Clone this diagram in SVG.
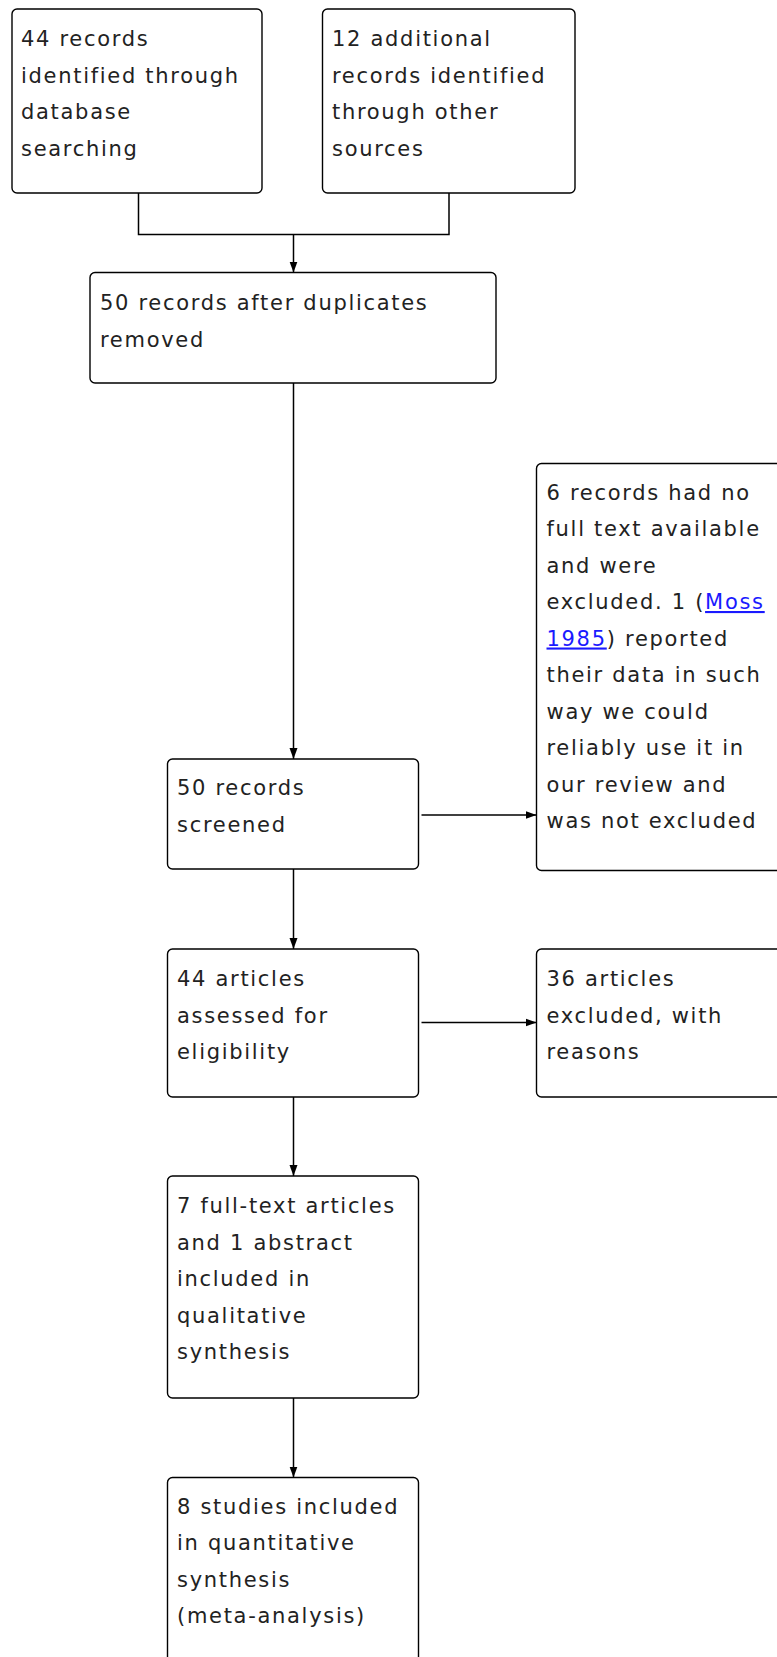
<svg xmlns="http://www.w3.org/2000/svg" width="777" height="1657" viewBox="0 0 777 1657">
<style>
.box{fill:#fff;stroke:#000;stroke-width:1.4}
.t{font-family:"DejaVu Sans",sans-serif;font-size:21px;letter-spacing:1.7px;fill:#222}
.c{fill:none;stroke:#000;stroke-width:1.5}
.lk{fill:#1a1aff;text-decoration:underline}
</style>
<defs>
<marker id="ah" viewBox="0 0 11 9" refX="11" refY="4.5" markerWidth="11" markerHeight="9" markerUnits="userSpaceOnUse" orient="auto">
<path d="M0,0.5 L11,4.5 L0,8.5 z" fill="#000"/>
</marker>
</defs>
<rect width="777" height="1657" fill="#fff"/>
<g id="connectors">
<polyline class="c" points="138.5,193 138.5,234.5 449,234.5 449,193"/>
<line class="c" x1="293.5" y1="234.5" x2="293.5" y2="272.5" marker-end="url(#ah)"/>
<line class="c" x1="293.5" y1="383" x2="293.5" y2="759" marker-end="url(#ah)"/>
<line class="c" x1="421.5" y1="815" x2="536.5" y2="815" marker-end="url(#ah)"/>
<line class="c" x1="293.5" y1="869" x2="293.5" y2="949" marker-end="url(#ah)"/>
<line class="c" x1="421.5" y1="1022.5" x2="536.5" y2="1022.5" marker-end="url(#ah)"/>
<line class="c" x1="293.5" y1="1097" x2="293.5" y2="1176" marker-end="url(#ah)"/>
<line class="c" x1="293.5" y1="1398" x2="293.5" y2="1477.5" marker-end="url(#ah)"/>
</g>
<g id="n1">
<rect class="box" x="12" y="9" width="250" height="184" rx="5"/>
<text class="t" x="21" y="46">44 records</text>
<text class="t" x="21" y="82.5">identified through</text>
<text class="t" x="21" y="119">database</text>
<text class="t" x="21" y="155.5">searching</text>
</g>
<g id="n2">
<rect class="box" x="322.5" y="9" width="252.5" height="184" rx="5"/>
<text class="t" x="332" y="46">12 additional</text>
<text class="t" x="332" y="82.5">records identified</text>
<text class="t" x="332" y="119">through other</text>
<text class="t" x="332" y="155.5">sources</text>
</g>
<g id="n3">
<rect class="box" x="90" y="272.5" width="406" height="110.5" rx="5"/>
<text class="t" x="100" y="310">50 records after duplicates</text>
<text class="t" x="100" y="346.5">removed</text>
</g>
<g id="n4">
<rect class="box" x="167.5" y="759" width="251" height="110" rx="5"/>
<text class="t" x="177" y="795">50 records</text>
<text class="t" x="177" y="831.5">screened</text>
</g>
<g id="n5">
<rect class="box" x="536.5" y="463.5" width="260" height="407" rx="5"/>
<text class="t" x="546.5" y="499.5">6 records had no</text>
<text class="t" x="546.5" y="536">full text available</text>
<text class="t" x="546.5" y="572.5">and were</text>
<text class="t" x="546.5" y="609">excluded. 1 (<tspan class="lk">Moss</tspan></text>
<text class="t" x="546.5" y="645.5"><tspan class="lk">1985</tspan>) reported</text>
<text class="t" x="546.5" y="682">their data in such</text>
<text class="t" x="546.5" y="718.5">way we could</text>
<text class="t" x="546.5" y="755">reliably use it in</text>
<text class="t" x="546.5" y="791.5">our review and</text>
<text class="t" x="546.5" y="828">was not excluded</text>
</g>
<g id="n6">
<rect class="box" x="167.5" y="949" width="251" height="148" rx="5"/>
<text class="t" x="177" y="986">44 articles</text>
<text class="t" x="177" y="1022.5">assessed for</text>
<text class="t" x="177" y="1059">eligibility</text>
</g>
<g id="n7">
<rect class="box" x="536.5" y="949" width="260" height="148" rx="5"/>
<text class="t" x="546.5" y="986">36 articles</text>
<text class="t" x="546.5" y="1022.5">excluded, with</text>
<text class="t" x="546.5" y="1059">reasons</text>
</g>
<g id="n8">
<rect class="box" x="167.5" y="1176" width="251" height="222" rx="5"/>
<text class="t" x="177" y="1213">7 full-text articles</text>
<text class="t" x="177" y="1249.5">and 1 abstract</text>
<text class="t" x="177" y="1286">included in</text>
<text class="t" x="177" y="1322.5">qualitative</text>
<text class="t" x="177" y="1359">synthesis</text>
</g>
<g id="n9">
<rect class="box" x="167.5" y="1477.5" width="251" height="200" rx="5"/>
<text class="t" x="177" y="1513.5">8 studies included</text>
<text class="t" x="177" y="1550">in quantitative</text>
<text class="t" x="177" y="1586.5">synthesis</text>
<text class="t" x="177" y="1623">(meta-analysis)</text>
</g>
</svg>
